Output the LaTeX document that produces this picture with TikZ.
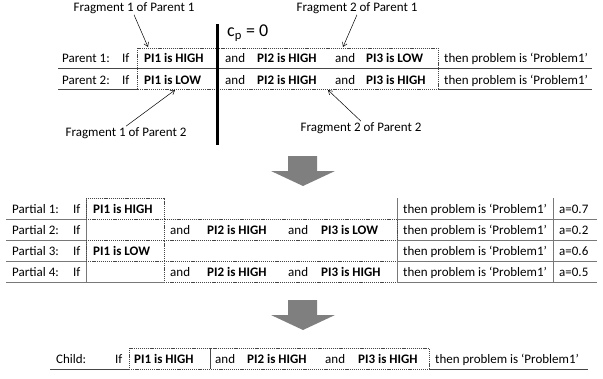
\documentclass[tikz,border=0pt]{standalone}
\usepackage{fontspec}
\setmainfont{Carlito}
\usepackage{xcolor}
\usepackage{tikz}
\usetikzlibrary{arrows.meta, positioning, calc}
\definecolor{rulegray}{RGB}{70, 70, 70}
\definecolor{tablegray}{RGB}{120, 120, 120}
\definecolor{arrowgray}{RGB}{127, 127, 127}
\tikzset{
    txt/.style = {anchor=base west, inner sep=0pt, font=\fontsize{13}{15}\selectfont},
    btxt/.style = {txt, font=\fontsize{13}{15}\selectfont\bfseries},
    fraglabel/.style = {inner sep=1pt, font=\fontsize{13}{15}\selectfont},
    fragbox/.style = {draw=rulegray, line width=0.6pt, dash pattern=on 1.2pt off 0.9pt},
    rowline/.style = {draw=rulegray, line width=0.8pt},
    tableline/.style = {draw=tablegray, line width=0.8pt},
    pointer/.style = {line width=0.5pt, -{Straight Barb[length=4pt, width=5pt]}},
    cutline/.style = {line width=3pt, black},
    bigarrow/.style = {fill=arrowgray}
}

\begin{document}
\begin{tikzpicture}[x=1pt, y=-1pt]
\useasboundingbox (0,0) rectangle (603,378);

% parents
\node (p1lab) [txt] at (62,62) {Parent 1:};
\node (p1if) [txt] at (122,62) {If};
\node (p1a) [btxt] at (144,62) {PI1 is HIGH};
\node (p1and) [txt] at (225,62) {and};
\node (p1b) [btxt] at (257,62) {PI2 is HIGH};
\node (p1andb) [txt] at (335,62) {and};
\node (p1c) [btxt] at (366,62) {PI3 is LOW};
\node (p1then) [txt] at (444,62) {then problem is ‘Problem1’};

\node (p2lab) [txt] at (62,84) {Parent 2:};
\node (p2if) [txt] at (122,84) {If};
\node (p2a) [btxt] at (144,84) {PI1 is LOW};
\node (p2and) [txt] at (225,84) {and};
\node (p2b) [btxt] at (257,84) {PI2 is HIGH};
\node (p2andb) [txt] at (335,84) {and};
\node (p2c) [btxt] at (366,84) {PI3 is HIGH};
\node (p2then) [txt] at (444,84) {then problem is ‘Problem1’};

\draw [rowline] (58,68) -- (592,68);
\draw [rowline] (58,89) -- (137,89);
\draw [rowline] (438,89) -- (592,89);
\draw [fragbox] (137,48) rectangle (438,89);
\draw [cutline] (217,24) -- (217,145);
\node (cp) [anchor=west, inner sep=0pt, font=\fontsize{18}{20}\selectfont] at (227,33) {c\textsubscript{p} = 0};

% fragment labels
\node (f1p1) [fraglabel] at (134,8) {Fragment 1 of Parent 1};
\node (f2p1) [fraglabel] at (357,8) {Fragment 2 of Parent 1};
\node (f1p2) [fraglabel] at (126,133) {Fragment 1 of Parent 2};
\node (f2p2) [fraglabel] at (361,128) {Fragment 2 of Parent 2};
\coordinate (f1p1tip) at (148,47);
\coordinate (f2p1tip) at (343,47);
\coordinate (f1p2tip) at (175,90);
\coordinate (f2p2tip) at (328,90);
\draw [pointer] (f1p1.south) -- (f1p1tip);
\draw [pointer] (f2p1.south) -- (f2p1tip);
\draw [pointer] (f1p2.north) -- (f1p2tip);
\draw [pointer] (f2p2.north) -- (f2p2tip);

\fill [bigarrow] (288,156) -- (317,156) -- (317,171) -- (335,171) -- (303,186) -- (271,171) -- (288,171) -- cycle;

% partials
\node (q1lab) [txt] at (12,213) {Partial 1:};
\node (q1if) [txt] at (73,213) {If};
\node (q1a) [btxt] at (93,213) {PI1 is HIGH};
\node (q1then) [txt] at (403,213) {then problem is ‘Problem1’};
\node (q1w) [txt] at (559,213) {a=0.7};

\node (q2lab) [txt] at (12,234) {Partial 2:};
\node (q2if) [txt] at (73,234) {If};
\node (q2and) [txt] at (170,234) {and};
\node (q2b) [btxt] at (207,234) {PI2 is HIGH};
\node (q2andb) [txt] at (288,234) {and};
\node (q2c) [btxt] at (321,234) {PI3 is LOW};
\node (q2then) [txt] at (403,234) {then problem is ‘Problem1’};
\node (q2w) [txt] at (559,234) {a=0.2};

\node (q3lab) [txt] at (12,255) {Partial 3:};
\node (q3if) [txt] at (73,255) {If};
\node (q3a) [btxt] at (93,255) {PI1 is LOW};
\node (q3then) [txt] at (403,255) {then problem is ‘Problem1’};
\node (q3w) [txt] at (559,255) {a=0.6};

\node (q4lab) [txt] at (12,276) {Partial 4:};
\node (q4if) [txt] at (73,276) {If};
\node (q4and) [txt] at (170,276) {and};
\node (q4b) [btxt] at (207,276) {PI2 is HIGH};
\node (q4andb) [txt] at (288,276) {and};
\node (q4c) [btxt] at (321,276) {PI3 is HIGH};
\node (q4then) [txt] at (403,276) {then problem is ‘Problem1’};
\node (q4w) [txt] at (559,276) {a=0.5};

\draw [tableline] (6,219) -- (86,219) (397,219) -- (597,219);
\draw [tableline] (6,240) -- (86,240) (397,240) -- (597,240);
\draw [tableline] (6,261) -- (86,261) (397,261) -- (597,261);
\draw [tableline] (6,282) -- (164,282) (397,282) -- (597,282);
\draw [tableline] (86,198) -- (86,282);
\draw [tableline] (397,198) -- (397,282);
\draw [tableline] (553,198) -- (553,282);
\draw [fragbox] (86,198) rectangle (164,219);
\draw [fragbox] (164,219) rectangle (397,240);
\draw [fragbox] (86,240) rectangle (164,261);
\draw [fragbox] (164,261) -- (164,282) -- (397,282) (164,261) -- (397,261);

\fill [bigarrow] (288,300) -- (317,300) -- (317,315) -- (335,315) -- (303,330) -- (271,315) -- (288,315) -- cycle;

% child
\node (clab) [txt] at (56,363) {Child:};
\node (cif) [txt] at (115,363) {If};
\node (ca) [btxt] at (134,363) {PI1 is HIGH};
\node (cand) [txt] at (215,363) {and};
\node (cb) [btxt] at (247,363) {PI2 is HIGH};
\node (candb) [txt] at (325,363) {and};
\node (cc) [btxt] at (358,363) {PI3 is HIGH};
\node (cthen) [txt] at (435,363) {then problem is ‘Problem1’};

\draw [rowline] (50,369) -- (129,369) (429,369) -- (588,369);
\draw [fragbox] (129,348) rectangle (429,369);
\draw [rowline] (210,348) -- (210,369);
\end{tikzpicture}
\end{document}
